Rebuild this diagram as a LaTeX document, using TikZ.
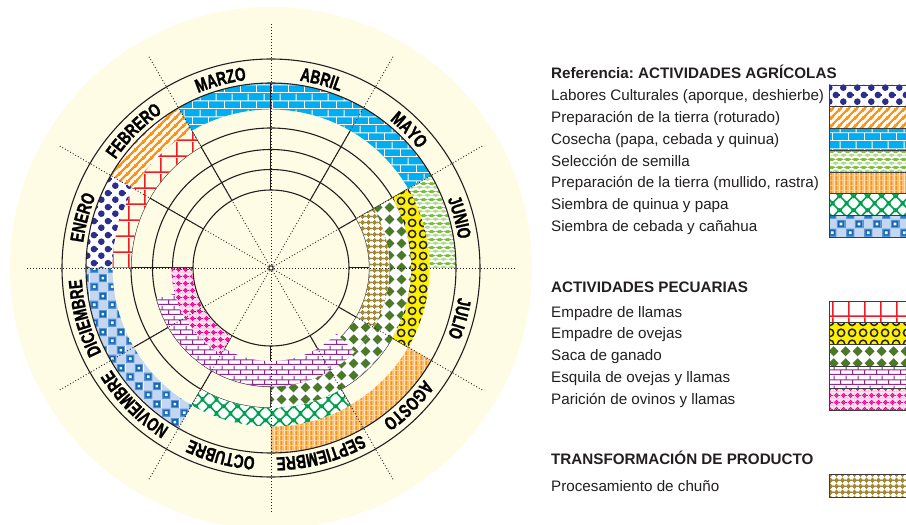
\documentclass[tikz,border=0pt]{standalone}
\usepackage{fontspec}
\usetikzlibrary{patterns.meta,decorations.text}
\newfontfamily\lsans{Liberation Sans}
\newfontfamily\mfont[FakeStretch=0.72,FakeBold=1.2]{Liberation Sans}

\definecolor{cbg}{RGB}{255,252,230}
\definecolor{cline}{RGB}{35,31,32}
\definecolor{cnavy}{RGB}{44,46,140}
\definecolor{corange}{RGB}{247,148,29}
\definecolor{ccyan}{RGB}{0,174,239}
\definecolor{clgreen}{RGB}{118,190,60}
\definecolor{cpgreen}{RGB}{178,218,140}
\definecolor{cpeach}{RGB}{253,212,155}
\definecolor{cgreen}{RGB}{0,160,80}
\definecolor{cpblue}{RGB}{196,214,240}
\definecolor{cmblue}{RGB}{95,150,212}
\definecolor{cdblue}{RGB}{16,105,180}
\definecolor{cred}{RGB}{237,28,36}
\definecolor{cyellow}{RGB}{255,240,0}
\definecolor{cdgreen}{RGB}{74,122,40}
\definecolor{cpurple}{RGB}{146,39,143}
\definecolor{cmag}{RGB}{236,0,140}
\definecolor{cpink}{RGB}{250,205,230}
\definecolor{cpinkbg}{RGB}{253,228,242}
\definecolor{cbrown}{RGB}{160,136,60}
\definecolor{cframe}{RGB}{60,60,60}

\tikzdeclarepattern{name=pNavy, type=colored,
  bottom left={(0pt,0pt)}, top right={(14pt,14pt)}, tile size={(14pt,14pt)},
  code={\tikzset{x=1pt,y=1pt}
    \fill[cnavy] (3.5,3.5) circle[radius=3.5] (10.5,10.5) circle[radius=3.5];}}
\tikzdeclarepattern{name=pDiag, type=colored,
  bottom left={(0pt,0pt)}, top right={(8pt,8pt)}, tile size={(8pt,8pt)},
  code={\tikzset{x=1pt,y=1pt}
    \draw[corange, line width=2.4] (-1,-1)--(9,9) (-5,3)--(5,13) (3,-5)--(13,5);}}
\tikzdeclarepattern{name=pBrick, type=colored,
  bottom left={(0pt,0pt)}, top right={(16pt,16pt)}, tile size={(16pt,16pt)},
  code={\tikzset{x=1pt,y=1pt}
    \fill[white] (0,0) rectangle (16,1) (0,8) rectangle (16,9)
      (0,1) rectangle (1,8) (8,9) rectangle (9,16);}}
\tikzdeclarepattern{name=pLgreen, type=colored,
  bottom left={(0pt,0pt)}, top right={(8pt,8pt)}, tile size={(8pt,8pt)},
  code={\tikzset{x=1pt,y=1pt}
    \fill[cpgreen] (0,2)--(4,0.2)--(8,2)--(4,3.8)--cycle;
    \fill[clgreen] (-4,6)--(0,4.2)--(4,6)--(0,7.8)--cycle
                   (4,6)--(8,4.2)--(12,6)--(8,7.8)--cycle;}}
\tikzdeclarepattern{name=pVert, type=colored,
  bottom left={(0pt,0pt)}, top right={(5pt,5pt)}, tile size={(5pt,5pt)},
  code={\tikzset{x=1pt,y=1pt}
    \fill[corange] (0.4,0) rectangle (2.2,5) (3.2,0) rectangle (3.9,5);}}
\tikzdeclarepattern{name=pOct, type=colored,
  bottom left={(0pt,0pt)}, top right={(14pt,14pt)}, tile size={(14pt,14pt)},
  code={\tikzset{x=1pt,y=1pt}
    \draw[cgreen, line width=1.7] (0,7)--(7,0)--(14,7)--(7,14)--cycle;
    \fill[cgreen] (5,-2) rectangle (9,2) (5,12) rectangle (9,16)
      (-2,5) rectangle (2,9) (12,5) rectangle (16,9);}}
\tikzdeclarepattern{name=pSquares, type=colored,
  bottom left={(0pt,0pt)}, top right={(18pt,18pt)}, tile size={(18pt,18pt)},
  code={\tikzset{x=1pt,y=1pt}
    \fill[cmblue] (0.2,0.2) rectangle (8.8,8.8) (9.2,9.2) rectangle (17.8,17.8);
    \fill[cdblue] (1.4,1.4) rectangle (7.6,7.6) (10.4,10.4) rectangle (16.6,16.6);
    \fill[white] (3.1,3.1) rectangle (5.9,5.9) (12.1,12.1) rectangle (14.9,14.9);}}
\tikzdeclarepattern{name=pGrid, type=colored,
  bottom left={(0pt,0pt)}, top right={(16pt,16pt)}, tile size={(16pt,16pt)},
  code={\tikzset{x=1pt,y=1pt}
    \fill[cred] (0,0) rectangle (16,1.8) (0,0) rectangle (1.8,16);}}
\tikzdeclarepattern{name=pYellow, type=colored,
  bottom left={(0pt,0pt)}, top right={(11pt,11pt)}, tile size={(11pt,11pt)},
  code={\tikzset{x=1pt,y=1pt}
    \draw[cline, line width=1.6] (5.5,5.5) circle[radius=3.9];}}
\tikzdeclarepattern{name=pDiam, type=colored,
  bottom left={(0pt,0pt)}, top right={(12pt,12pt)}, tile size={(12pt,12pt)},
  code={\tikzset{x=1pt,y=1pt}
    \fill[cdgreen] (6,0.7)--(11.3,6)--(6,11.3)--(0.7,6)--cycle;}}
\tikzdeclarepattern{name=pBrickP, type=colored,
  bottom left={(0pt,0pt)}, top right={(12pt,10pt)}, tile size={(12pt,10pt)},
  code={\tikzset{x=1pt,y=1pt}
    \fill[cpurple] (0,0) rectangle (12,1.1) (0,5) rectangle (12,6.1)
      (0,1) rectangle (1.1,5) (6,6) rectangle (7.1,10);}}
\tikzdeclarepattern{name=pPink, type=colored,
  bottom left={(0pt,0pt)}, top right={(7pt,7pt)}, tile size={(7pt,7pt)},
  code={\tikzset{x=1pt,y=1pt}
    \fill[cpink] (0,0) rectangle (7,1) (0,0) rectangle (1,7);
    \draw[cmag, line width=1.1] (4,4) circle[radius=2.1];
    \fill[cmag] (4,4) circle[radius=0.9];}}
\tikzdeclarepattern{name=pChuno, type=colored,
  bottom left={(0pt,0pt)}, top right={(6pt,6pt)}, tile size={(6pt,6pt)},
  code={\tikzset{x=1pt,y=1pt}
    \fill[cbrown] (1.2,1.2) rectangle (4.8,4.8) (2.3,0) rectangle (3.7,6) (0,2.3) rectangle (6,3.7);}}

\newcommand\annsec[4]{(#3:#1) arc[start angle=#3, end angle=#4, radius=#1] -- (#4:#2) arc[start angle=#4, end angle=#3, radius=#2] -- cycle}

\tikzset{
  sDots/.style={fill=white, postaction={pattern=pNavy}},
  sDiag/.style={fill=white, postaction={pattern=pDiag}},
  sCos/.style={fill=ccyan, postaction={pattern=pBrick}},
  sSel/.style={fill=white, postaction={pattern=pLgreen}},
  sMul/.style={fill=cpeach, postaction={pattern=pVert}},
  sSqp/.style={fill=white, postaction={pattern=pOct}},
  sCeb/.style={fill=cpblue, postaction={pattern=pSquares}},
  sLla/.style={fill=#1, postaction={pattern=pGrid}},
  sOve/.style={fill=cyellow, postaction={pattern=pYellow}},
  sSac/.style={fill=white, postaction={pattern=pDiam}},
  sEsq/.style={fill=white, postaction={pattern=pBrickP}},
  sPar/.style={fill=cpinkbg, postaction={pattern=pPink}},
  sChu/.style={fill=white, postaction={pattern=pChuno}},
  ring/.style={draw=cline, line width=1.1},
  spoke/.style={draw=cline, line width=1},
  dotspoke/.style={draw=cline, line width=0.9, dash pattern=on 0.9pt off 2.1pt},
  mlabel/.style={decorate, decoration={text along path, text align=center,
     text={|\mfont\bfseries\fontsize{19}{19}\selectfont|#1}}},
  leg/.style={font=\lsans\fontsize{15.2}{18}\selectfont\frenchspacing, inner sep=0pt, text=cline, anchor=base west},
  swatch/.style={draw=cframe, line width=0.8}
}

\begin{document}
\begin{tikzpicture}[x=1pt,y=1pt]
\useasboundingbox (-271,-257) rectangle (635,268);
\fill[white] (-271,-257) rectangle (635,268);
\fill[cbg] (0,0) circle[radius=261];

% inner circles and solid spokes (under the bands)
\foreach \r in {78,98.5,118.5,140} \draw[ring] (0,0) circle[radius=\r];
\foreach \a in {0,30,...,330} \draw[spoke] (\a:78) -- (\a:159);

% bands
\path[sDots] \annsec{158.5}{185}{150}{180};
\path[sDiag] \annsec{158.5}{185}{120}{150};
\path[sCos]  \annsec{158.5}{185}{30}{120};
\path[sSel]  \annsec{158.5}{185}{0}{30};
\path[sMul]  \annsec{158.5}{185}{-90}{-30};
\path[sCeb]  \annsec{158.5}{185}{180}{240};
\path[sLla=cbg] \annsec{140}{158.5}{120}{180};
\path[sOve]  \annsec{140}{158.5}{-30}{30};
\path[sSqp]  \annsec{140}{158.5}{-120}{-60};
\path[sSac]  \annsec{118.5}{140}{-90}{30};
\path[sSac]  \annsec{98.5}{118.5}{-45}{-30};
\path[sEsq]  \annsec{93}{118.5}{-165}{-45};
\path[sPar]  \annsec{79}{99.5}{180}{240};
\path[sChu]  \annsec{98.5}{118.5}{-30}{30};

% outer rings
\draw[ring] (0,0) circle[radius=185];
\draw[ring] (0,0) circle[radius=209];

% dotted spokes
\foreach \a in {0,30,...,330} \draw[dotspoke] (\a:3) -- (\a:245);
\draw[spoke] (90:158.5) -- (90:185);
\draw[cline, line width=1, fill=cbg] (0,0) circle[radius=2.2];

% month labels
\path[mlabel=MARZO] (120:189.5) arc[start angle=120, end angle=90, radius=189.5];
\path[mlabel=ABRIL] (90:189.5) arc[start angle=90, end angle=60, radius=189.5];
\path[mlabel=MAYO] (60:189.5) arc[start angle=60, end angle=30, radius=189.5];
\path[mlabel=JUNIO] (30:189.5) arc[start angle=30, end angle=0, radius=189.5];
\path[mlabel=JULIO] (0:189.5) arc[start angle=0, end angle=-30, radius=189.5];
\path[mlabel=AGOSTO] (-30:189.5) arc[start angle=-30, end angle=-60, radius=189.5];
\path[mlabel=SEPTIEMBRE] (-60:189.5) arc[start angle=-60, end angle=-90, radius=189.5];
\path[mlabel=OCTUBRE] (-90:189.5) arc[start angle=-90, end angle=-120, radius=189.5];
\path[mlabel=NOVIEMBRE] (-120:189.5) arc[start angle=-120, end angle=-150, radius=189.5];
\path[mlabel=DICIEMBRE] (-150:189.5) arc[start angle=-150, end angle=-180, radius=189.5];
\path[mlabel=ENERO] (180:189.5) arc[start angle=180, end angle=150, radius=189.5];
\path[mlabel=FEBRERO] (150:189.5) arc[start angle=150, end angle=120, radius=189.5];

% legend: agricultural
\node[leg] (h1) at (280,189.5) {\bfseries Referencia: ACTIVIDADES AGRÍCOLAS};
\node[leg] (a1) at (280,167) {Labores Culturales (aporque, deshierbe)};
\node[leg] (a2) at (280,145.25) {Preparación de la tierra (roturado)};
\node[leg] (a3) at (280,123.5) {Cosecha (papa, cebada y quinua)};
\node[leg] (a4) at (280,101.75) {Selección de semilla};
\node[leg] (a5) at (280,80) {Preparación de la tierra (mullido, rastra)};
\node[leg] (a6) at (280,58.25) {Siembra de quinua y papa};
\node[leg] (a7) at (280,36.5) {Siembra de cebada y cañahua};
\path[sDots] (558,183) rectangle (640,161.25);
\path[sDiag] (558,161.25) rectangle (640,139.5);
\path[sCos]  (558,139.5) rectangle (640,117.75);
\path[sSel]  (558,117.75) rectangle (640,96);
\path[sMul]  (558,96) rectangle (640,74.25);
\path[sSqp]  (558,74.25) rectangle (640,52.5);
\path[sCeb]  (558,52.5) rectangle (640,30.75);
\foreach \t/\b in {183/161.25,161.25/139.5,139.5/117.75,117.75/96,96/74.25,74.25/52.5,52.5/30.75}
  \draw[swatch] (558,\t) rectangle (640,\b);

% legend: pecuarias
\node[leg] (h2) at (280,-24.5) {\bfseries ACTIVIDADES PECUARIAS};
\node[leg] (p1) at (280,-49) {Empadre de llamas};
\node[leg] (p2) at (280,-70.8) {Empadre de ovejas};
\node[leg] (p3) at (280,-92.6) {Saca de ganado};
\node[leg] (p4) at (280,-114.4) {Esquila de ovejas y llamas};
\node[leg] (p5) at (280,-136.2) {Parición de ovinos y llamas};
\path[sLla=white] (558,-33) rectangle (640,-54.8);
\path[sOve] (558,-54.8) rectangle (640,-76.6);
\path[sSac] (558,-76.6) rectangle (640,-98.4);
\path[sEsq] (558,-98.4) rectangle (640,-120.2);
\path[sPar] (558,-120.2) rectangle (640,-142);
\foreach \t/\b in {-33/-54.8,-54.8/-76.6,-76.6/-98.4,-98.4/-120.2,-120.2/-142}
  \draw[swatch] (558,\t) rectangle (640,\b);

% legend: transformacion
\node[leg] (h3) at (280,-196.5) {\bfseries TRANSFORMACIÓN DE PRODUCTO};
\node[leg] (c1) at (280,-223) {Procesamiento de chuño};
\path[sChu] (558,-206) rectangle (640,-229);
\draw[swatch] (558,-206) rectangle (640,-229);
\end{tikzpicture}
\end{document}
